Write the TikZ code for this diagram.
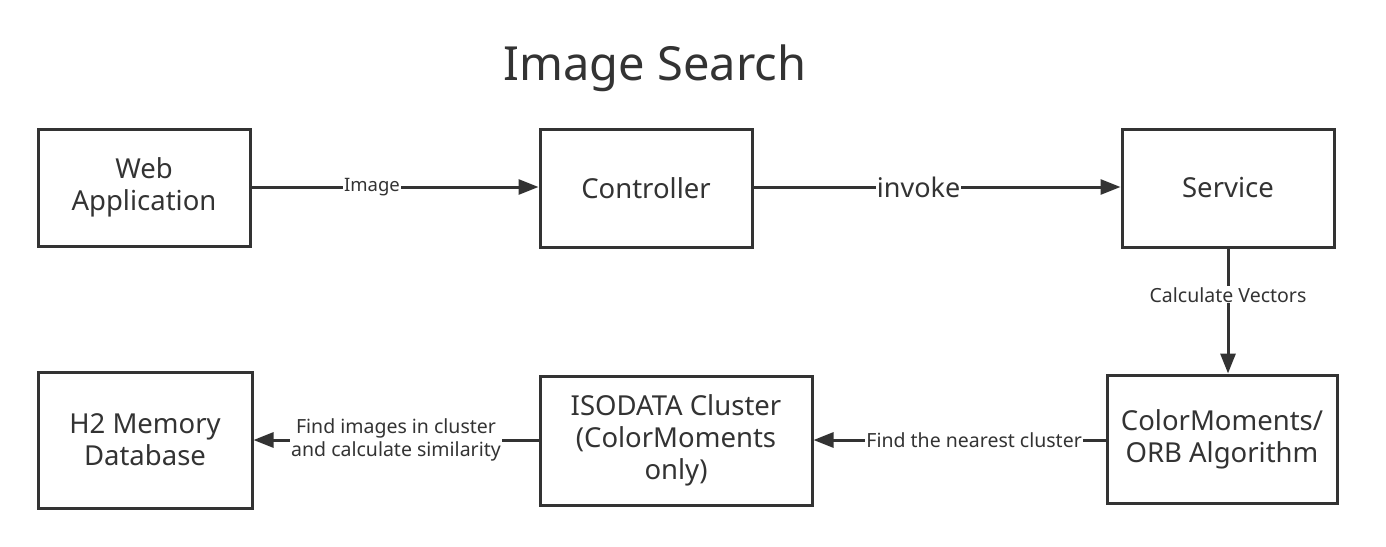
\documentclass[tikz,border=0pt]{standalone}
\usepackage{fontspec}
\setmainfont{Noto Sans}
\usepackage{xcolor}
\usetikzlibrary{arrows.meta}
\definecolor{inkgrey}{HTML}{333333}

\begin{document}
\begin{tikzpicture}[x=1pt,y=-1pt,
  block/.style={draw=inkgrey, line width=3pt, inner sep=0pt, align=center,
    text=inkgrey, font=\fontsize{27.5}{32}\selectfont},
  flow/.style={draw=inkgrey, line width=3pt, -{Triangle[length=20pt,width=15pt]}},
  tag/.style={fill=white, text=inkgrey, inner sep=1pt, align=center,
    font=\fontsize{19.5}{23}\selectfont}]
\useasboundingbox (0,0) rectangle (1386,546);
\node[text=inkgrey, font=\fontsize{47}{56}\selectfont] (title) at (655,68) {Image Search};
% top row
\node[block, minimum width=212pt, minimum height=117pt] (web) at (144,187.5) {Web\\Application};
\node[block, minimum width=212pt, minimum height=118pt] (ctrl) at (646,188) {Controller};
\node[block, minimum width=212pt, minimum height=118pt] (serv) at (1228,188) {Service};
% bottom row
\node[block, minimum width=230pt, minimum height=128pt] (algo) at (1222,439) {ColorMoments/\\ORB Algorithm};
\node[block, minimum width=272pt, minimum height=129pt] (iso) at (676,440.5) {ISODATA Cluster\\(ColorMoments\\only)};
\node[block, minimum width=214pt, minimum height=136pt] (db) at (145,440) {H2 Memory\\Database};
% connectors
\draw[flow] (web.east |- 0,187) -- node[tag, pos=0.42, font=\fontsize{18.5}{22}\selectfont] {Image} (ctrl.west |- 0,187);
\draw[flow] (ctrl.east |- 0,187) -- node[tag, pos=0.45, font=\fontsize{27}{32}\selectfont] {invoke} (serv.west |- 0,187);
\draw[flow] (serv.south) -- node[tag, pos=0.37] {Calculate Vectors} (algo.north -| serv.south);
\draw[flow] (algo.west |- 0,440) -- node[tag, pos=0.45] {Find the nearest cluster} (iso.east |- 0,440);
\draw[flow] (iso.west |- 0,440) -- node[tag, pos=0.5] {Find images in cluster\\and calculate similarity} (db.east |- 0,440);
\end{tikzpicture}
\end{document}
